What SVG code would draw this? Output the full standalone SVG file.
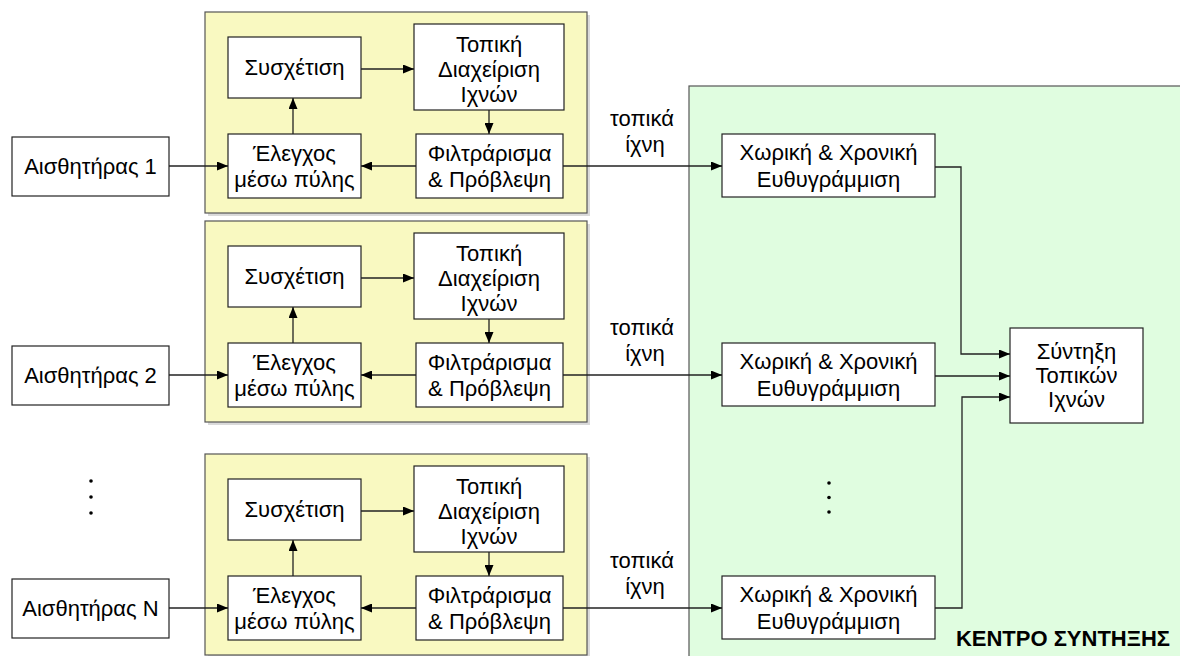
<svg xmlns="http://www.w3.org/2000/svg" width="1180" height="656" viewBox="0 0 1180 656">
<defs>
<marker id="ah" markerWidth="11" markerHeight="9" refX="11" refY="4.5" orient="auto" markerUnits="userSpaceOnUse">
<path d="M0,0 L11,4.5 L0,9 Z" fill="#000"/>
</marker>
<style>
.t{font-family:"Liberation Sans",Arial,sans-serif;font-size:22px;fill:#000;text-anchor:middle}
.b{fill:#fff;stroke:#222;stroke-width:1.2}
.yel{fill:#f9f9c1;stroke:#555;stroke-width:1.2}
.sh{fill:#dadada}
.grn{fill:#e0fde0;stroke:#555;stroke-width:1.2}
.c{fill:none;stroke:#222;stroke-width:1.3;marker-end:url(#ah)}
.dot{fill:#000}
.title{font-family:"Liberation Sans",Arial,sans-serif;font-size:22px;font-weight:bold;fill:#000;text-anchor:end}
</style>
</defs>
<rect width="1180" height="656" fill="#fff"/>

<g id="fusion-center">
<rect class="grn" x="689" y="86" width="495" height="575"/>
<text class="title" x="1170" y="646">ΚΕΝΤΡΟ ΣΥΝΤΗΞΗΣ</text>
</g>

<g id="tracker-1">
<rect class="sh" x="208" y="15" width="382" height="201"/>
<rect class="yel" x="205" y="12" width="382" height="201"/>
</g>
<g id="tracker-2" transform="translate(0,209)">
<rect class="sh" x="208" y="15" width="382" height="201"/>
<rect class="yel" x="205" y="12" width="382" height="201"/>
</g>
<g id="tracker-3" transform="translate(0,442)">
<rect class="sh" x="208" y="15" width="382" height="201"/>
<rect class="yel" x="205" y="12" width="382" height="201"/>
</g>

<g id="sensor-1">
<rect class="b" x="12" y="137" width="157" height="59"/>
<text class="t" x="90.5" y="174">Αισθητήρας 1</text>
</g>
<g id="sensor-2" transform="translate(0,209)">
<rect class="b" x="12" y="137" width="157" height="59"/>
<text class="t" x="90.5" y="174">Αισθητήρας 2</text>
</g>
<g id="sensor-n" transform="translate(0,442)">
<rect class="b" x="12" y="137" width="157" height="59"/>
<text class="t" x="90.5" y="174">Αισθητήρας N</text>
</g>

<g id="assoc-1">
<rect class="b" x="228" y="37" width="133" height="61"/>
<text class="t" x="294.5" y="75">Συσχέτιση</text>
</g>
<g id="assoc-2" transform="translate(0,209)">
<rect class="b" x="228" y="37" width="133" height="61"/>
<text class="t" x="294.5" y="75">Συσχέτιση</text>
</g>
<g id="assoc-3" transform="translate(0,442)">
<rect class="b" x="228" y="37" width="133" height="61"/>
<text class="t" x="294.5" y="75">Συσχέτιση</text>
</g>

<g id="trackmgmt-1">
<rect class="b" x="414" y="24" width="150" height="86"/>
<text class="t" x="489" y="52">Τοπική</text>
<text class="t" x="489" y="77">Διαχείριση</text>
<text class="t" x="489" y="102">Ιχνών</text>
</g>
<g id="trackmgmt-2" transform="translate(0,209)">
<rect class="b" x="414" y="24" width="150" height="86"/>
<text class="t" x="489" y="52">Τοπική</text>
<text class="t" x="489" y="77">Διαχείριση</text>
<text class="t" x="489" y="102">Ιχνών</text>
</g>
<g id="trackmgmt-3" transform="translate(0,442)">
<rect class="b" x="414" y="24" width="150" height="86"/>
<text class="t" x="489" y="52">Τοπική</text>
<text class="t" x="489" y="77">Διαχείριση</text>
<text class="t" x="489" y="102">Ιχνών</text>
</g>

<g id="gating-1">
<rect class="b" x="228" y="134" width="133" height="64"/>
<text class="t" x="294.5" y="161">Έλεγχος</text>
<text class="t" x="294.5" y="187">μέσω πύλης</text>
</g>
<g id="gating-2" transform="translate(0,209)">
<rect class="b" x="228" y="134" width="133" height="64"/>
<text class="t" x="294.5" y="161">Έλεγχος</text>
<text class="t" x="294.5" y="187">μέσω πύλης</text>
</g>
<g id="gating-3" transform="translate(0,442)">
<rect class="b" x="228" y="134" width="133" height="64"/>
<text class="t" x="294.5" y="161">Έλεγχος</text>
<text class="t" x="294.5" y="187">μέσω πύλης</text>
</g>

<g id="filter-1">
<rect class="b" x="416" y="134" width="147" height="64"/>
<text class="t" x="489.5" y="161">Φιλτράρισμα</text>
<text class="t" x="489.5" y="187">&amp; Πρόβλεψη</text>
</g>
<g id="filter-2" transform="translate(0,209)">
<rect class="b" x="416" y="134" width="147" height="64"/>
<text class="t" x="489.5" y="161">Φιλτράρισμα</text>
<text class="t" x="489.5" y="187">&amp; Πρόβλεψη</text>
</g>
<g id="filter-3" transform="translate(0,442)">
<rect class="b" x="416" y="134" width="147" height="64"/>
<text class="t" x="489.5" y="161">Φιλτράρισμα</text>
<text class="t" x="489.5" y="187">&amp; Πρόβλεψη</text>
</g>

<g id="align-1">
<rect class="b" x="722" y="134" width="213" height="63"/>
<text class="t" x="828.5" y="160">Χωρική &amp; Χρονική</text>
<text class="t" x="828.5" y="187">Ευθυγράμμιση</text>
</g>
<g id="align-2" transform="translate(0,209)">
<rect class="b" x="722" y="134" width="213" height="63"/>
<text class="t" x="828.5" y="160">Χωρική &amp; Χρονική</text>
<text class="t" x="828.5" y="187">Ευθυγράμμιση</text>
</g>
<g id="align-3" transform="translate(0,442)">
<rect class="b" x="722" y="134" width="213" height="63"/>
<text class="t" x="828.5" y="160">Χωρική &amp; Χρονική</text>
<text class="t" x="828.5" y="187">Ευθυγράμμιση</text>
</g>

<g id="fusion">
<rect class="b" x="1010" y="328" width="133" height="95"/>
<text class="t" x="1076.5" y="359">Σύντηξη</text>
<text class="t" x="1076.5" y="383">Τοπικών</text>
<text class="t" x="1076.5" y="407">Ιχνών</text>
</g>

<g id="ellipsis-left">
<circle class="dot" cx="91" cy="481" r="1.8"/>
<circle class="dot" cx="91" cy="497" r="1.8"/>
<circle class="dot" cx="91" cy="513" r="1.8"/>
</g>
<g id="ellipsis-right">
<circle class="dot" cx="829" cy="483" r="1.8"/>
<circle class="dot" cx="829" cy="497.5" r="1.8"/>
<circle class="dot" cx="829" cy="512" r="1.8"/>
</g>

<g id="labels">
<text class="t" x="642" y="126">τοπικά</text>
<text class="t" x="645" y="152">ίχνη</text>
<text class="t" x="642" y="335">τοπικά</text>
<text class="t" x="645" y="361">ίχνη</text>
<text class="t" x="642" y="568">τοπικά</text>
<text class="t" x="645" y="594">ίχνη</text>
</g>

<g id="connectors">
<g id="conn-1">
<path class="c" d="M169,166 H228"/>
<path class="c" d="M293,134 V98"/>
<path class="c" d="M361,69 H414"/>
<path class="c" d="M489,110 V134"/>
<path class="c" d="M416,166 H361"/>
<path class="c" d="M563,166 H722"/>
</g>
<g id="conn-2" transform="translate(0,209)">
<path class="c" d="M169,166 H228"/>
<path class="c" d="M293,134 V98"/>
<path class="c" d="M361,69 H414"/>
<path class="c" d="M489,110 V134"/>
<path class="c" d="M416,166 H361"/>
<path class="c" d="M563,166 H722"/>
</g>
<g id="conn-3" transform="translate(0,442)">
<path class="c" d="M169,166 H228"/>
<path class="c" d="M293,134 V98"/>
<path class="c" d="M361,69 H414"/>
<path class="c" d="M489,110 V134"/>
<path class="c" d="M416,166 H361"/>
<path class="c" d="M563,166 H722"/>
</g>
<path class="c" d="M935,167 H961 V354 H1010"/>
<path class="c" d="M935,376 H1010"/>
<path class="c" d="M935,608 H962 V397 H1010"/>
</g>
</svg>
